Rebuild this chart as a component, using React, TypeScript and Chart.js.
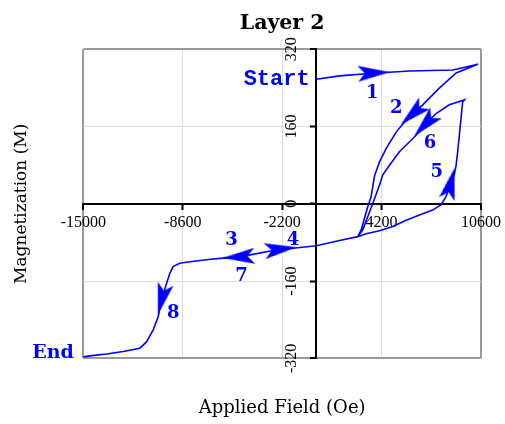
import React, { useEffect, useRef } from 'react';
import { Chart, registerables } from 'chart.js';

Chart.register(...registerables);

// Hysteresis path (applied field in Oe, magnetization in M), traced in order
const fieldOe = [
  0, 1500, 3400, 6000, 8800, 10400,
  9000, 7900, 6850, 5800, 5150, 4500, 4070, 3750, 3530, 3310, 3100, 2890, 2670,
  1500, 0, -1500, -2400, -4900, -6000,
  -4900, -2400, -1500, 0, 1500, 2670,
  3210, 4070, 4920, 5780, 6640, 7490, 8030, 8350, 8560, 8880, 9000, 9100, 9420, 9530,
  8560, 7710, 7070, 6420, 5890, 5350, 4710, 4280, 4070, 3640, 3310, 2990, 2670,
  1500, 0, -1500, -2400, -4900, -6200, -7070, -8140, -8790, -9220, -9430, -9640,
  -9960, -10180, -10500, -10930, -11360, -12430, -13500, -14570, -15000,
];
const magnetization = [
  258, 265, 270, 275, 277, 289,
  271, 239, 205, 174, 149, 115, 87, 58, 15, -6, -30, -54, -68,
  -76, -87, -92, -94, -110, -112,
  -110, -94, -92, -87, -76, -68,
  -62, -56, -47, -34, -23, -13, -2, 15, 35, 60, 80, 108, 211, 215,
  205, 187, 167, 142, 125, 108, 80, 60, 39, 1, -27, -54, -68,
  -76, -87, -92, -94, -110, -113, -116, -120, -123, -130, -144, -165,
  -199, -234, -261, -286, -299, -306, -311, -315, -317,
];

const xTickValues = [-15000, -8600, -2200, 4200, 10600];
const yTickValues = [-320, -160, 0, 160, 320];

// Direction arrows along the path
const arrowField = [3700, 6200, -5000, -2300, 8650, 7000, -9950];
const arrowMag = [271, 186, -110, -94, 42, 164, -198];
const arrowAngle = [87, 228, 266, 83, 14, 223, 194];

// Annotation texts
const noteText = ['Start', 'End', '1', '2', '3', '4', '5', '6', '7', '8'];
const noteField = [-2553, -16947, 3600, 5140, -5460, -1505, 7750, 7320, -4820, -9217];
const noteMag = [258, -309, 229, 198, -75, -75, 66, 125, -151, -227];

const X_MIN = -15000;
const X_MAX = 10600;
const Y_MIN = -320;
const Y_MAX = 320;

const BLUE = '#0000ff';

const overlayPlugin = {
  id: 'overlayText',
  beforeDatasetsDraw(chart: any) {
    const { ctx, scales } = chart;
    const xs = scales.x;
    const ys = scales.y;
    const x0 = xs.getPixelForValue(0);
    ctx.save();
    ctx.font = '16px "Liberation Serif"';
    ctx.fillStyle = '#000';
    ctx.textAlign = 'center';
    ctx.textBaseline = 'middle';
    ys.ticks.forEach((t: any) => {
      const py = ys.getPixelForValue(t.value);
      ctx.save();
      ctx.translate(x0 - 25, py);
      ctx.rotate(-Math.PI / 2);
      ctx.fillText(String(t.value), 0, 0);
      ctx.restore();
    });
    ctx.restore();
  },
  afterDatasetsDraw(chart: any) {
    const { ctx, scales } = chart;
    const xs = scales.x;
    const ys = scales.y;
    ctx.save();
    ctx.fillStyle = BLUE;
    ctx.textAlign = 'center';
    ctx.textBaseline = 'middle';
    noteText.forEach((txt, i) => {
      if (txt === 'Start') ctx.font = 'bold 22px "Liberation Mono"';
      else if (txt === 'End') ctx.font = 'bold 19px "DejaVu Serif"';
      else ctx.font = 'bold 18px "DejaVu Serif"';
      ctx.fillText(txt, xs.getPixelForValue(noteField[i]), ys.getPixelForValue(noteMag[i]));
    });
    ctx.restore();
  },
};

export default function App() {
  const canvasRef = useRef<HTMLCanvasElement | null>(null);

  useEffect(() => {
    const canvas = canvasRef.current;
    if (!canvas) return;

    const arrowImg = document.createElement('canvas');
    arrowImg.width = 22;
    arrowImg.height = 34;
    const a = arrowImg.getContext('2d');
    if (a) {
      a.fillStyle = BLUE;
      a.beginPath();
      a.moveTo(11, 1);
      a.lineTo(19, 33);
      a.lineTo(11, 26);
      a.lineTo(3, 33);
      a.closePath();
      a.fill();
    }

    const edgeColor = (vals: number[]) => (c: any) =>
      c.tick && (c.tick.value === vals[0] || c.tick.value === vals[vals.length - 1]) ? '#9a9a9a' : '#dcdcdc';
    const edgeWidth = (vals: number[]) => (c: any) =>
      c.tick && (c.tick.value === vals[0] || c.tick.value === vals[vals.length - 1]) ? 2 : 1;

    const chart = new Chart(canvas, {
      type: 'scatter',
      data: {
        datasets: [
          {
            data: fieldOe.map((v, i) => ({ x: v, y: magnetization[i] })),
            showLine: true,
            borderColor: BLUE,
            borderWidth: 1.6,
            pointRadius: 0,
            fill: false,
            tension: 0,
            xAxisID: 'x',
            yAxisID: 'y',
          } as any,
          {
            data: arrowField.map((v, i) => ({ x: v, y: arrowMag[i] })),
            showLine: false,
            pointStyle: arrowImg as any,
            pointRadius: 6,
            pointRotation: arrowAngle,
            backgroundColor: BLUE,
            borderWidth: 0,
            xAxisID: 'x',
            yAxisID: 'y',
          } as any,
        ],
      },
      options: {
        animation: false,
        responsive: false,
        maintainAspectRatio: false,
        events: [],
        layout: { padding: { left: 0, right: 23.3, top: 0, bottom: 5.2 } },
        plugins: {
          legend: { display: false },
          tooltip: { enabled: false },
          title: {
            display: true,
            fullSize: false,
            text: 'Layer 2',
            color: '#000',
            font: { family: 'DejaVu Serif', size: 20.5, weight: 'bold', lineHeight: 1.2 },
            padding: { top: 11.2, bottom: 13.5 },
          },
        },
        scales: {
          x: {
            type: 'linear',
            position: { y: 0 } as any,
            min: X_MIN,
            max: X_MAX,
            afterBuildTicks: (s: any) => {
              s.ticks = xTickValues.map((v) => ({ value: v }));
            },
            grid: {
              color: edgeColor(xTickValues),
              lineWidth: edgeWidth(xTickValues),
              tickColor: '#000',
              tickLength: 5,
              tickWidth: 2,
            },
            border: { display: true, color: '#000', width: 2 },
            ticks: {
              color: '#000',
              font: { family: 'Liberation Serif', size: 16 },
              padding: 4,
              autoSkip: false,
              maxRotation: 0,
              minRotation: 0,
              callback: (v: any) => String(v),
            },
          },
          y: {
            type: 'linear',
            position: { x: 0 } as any,
            min: Y_MIN,
            max: Y_MAX,
            afterBuildTicks: (s: any) => {
              s.ticks = yTickValues.map((v) => ({ value: v }));
            },
            grid: {
              color: edgeColor(yTickValues),
              lineWidth: edgeWidth(yTickValues),
              tickColor: '#000',
              tickLength: 5,
              tickWidth: 2,
            },
            border: { display: true, color: '#000', width: 2 },
            ticks: { display: false },
          },
          x2: {
            type: 'linear',
            axis: 'x',
            position: 'bottom',
            grid: { display: false, drawTicks: false },
            border: { display: false },
            ticks: { display: false },
            title: {
              display: true,
              text: 'Applied Field (Oe)',
              color: '#000',
              font: { family: 'DejaVu Serif', size: 18, lineHeight: 1.2 },
              padding: { top: 38.9, bottom: 0 },
            },
          },
          y2: {
            type: 'linear',
            axis: 'y',
            position: 'left',
            grid: { display: false, drawTicks: false },
            border: { display: false },
            ticks: { display: false },
            title: {
              display: true,
              text: 'Magnetization (M)',
              color: '#000',
              font: { family: 'DejaVu Serif', size: 17, lineHeight: 1.2 },
              padding: { top: 11.8, bottom: 51.1 },
            },
          },
        } as any,
      },
      plugins: [overlayPlugin],
    });

    return () => {
      chart.destroy();
    };
  }, []);

  return (
    <div style={{ position: 'absolute', left: 0, top: 0, width: 505, height: 424, background: '#fff' }}>
      <canvas ref={canvasRef} width={505} height={424} style={{ width: 505, height: 424, display: 'block' }} />
    </div>
  );
}
